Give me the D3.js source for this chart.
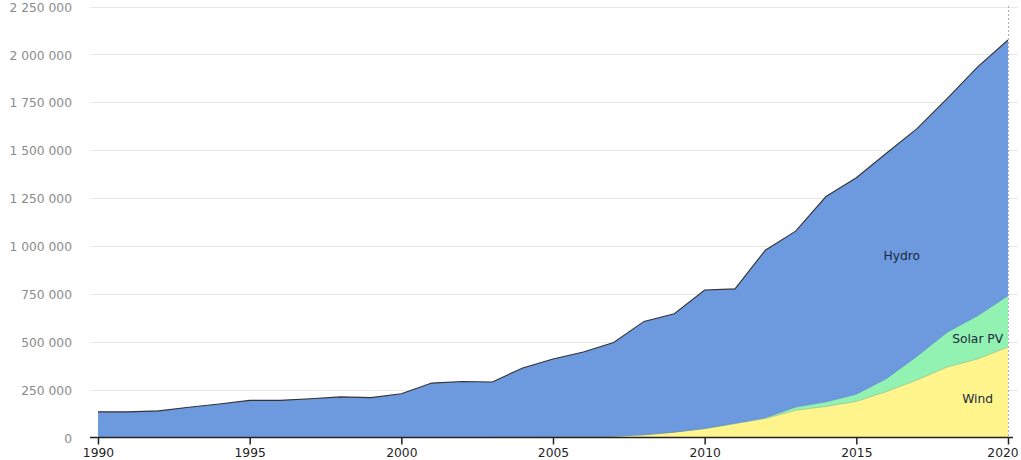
<!DOCTYPE html>
<html>
<head>
<meta charset="utf-8">
<script src="https://cdn.jsdelivr.net/npm/d3@7"></script>
<style>
  html, body { margin: 0; padding: 0; background: #fff; }
  svg { display: block; }
  text { font-family: "DejaVu Sans", "Open Sans", sans-serif; }
</style>
</head>
<body>
<svg id="chart" width="1021" height="460"></svg>
<script>
const years = d3.range(1990, 2021);
const hydro = [134000, 134000, 139000, 158000, 175000, 194000, 194000, 202000, 212000, 208000,
  228000, 284000, 292000, 290000, 362000, 408000, 442000, 490000, 592000, 618000,
  723000, 701000, 875000, 918000, 1072000, 1130000, 1177000, 1188000, 1220000, 1299000, 1335000];
const solar = [0,0,0,0,0,0,0,0,0,0, 0,0,0,0,0,0,0,0,0,0,
  1000, 3000, 4000, 17000, 24000, 38000, 68000, 124000, 182000, 226000, 268000];
const wind = [0,0,0,0,0,0,0,0,0,0, 0,0,0,0,1000,2000,4000,6000,14000,28000,
  46000, 72000, 99000, 142000, 162000, 188000, 240000, 300000, 368000, 410000, 472000];
const seriesNames = ["Wind", "Solar PV", "Hydro"];
const yTicks = [0, 250000, 500000, 750000, 1000000, 1250000, 1500000, 1750000, 2000000, 2250000];
const xTicks = [1990, 1995, 2000, 2005, 2010, 2015, 2020];
const labelPos = [
  {name: "Hydro", year: 2016.5, value: 949000},
  {name: "Solar PV", year: 2019, value: 519000},
  {name: "Wind", year: 2019, value: 201000}
];

const rows = years.map((y, i) => ({year: y, "Wind": wind[i], "Solar PV": solar[i], "Hydro": hydro[i]}));
const colors = {"Wind": "#fff58c", "Solar PV": "#92f2b2", "Hydro": "#6d9ade"};
const edge = {"Wind": "#8fb07a", "Solar PV": "#4f7fc4", "Hydro": "#333333"};

const svg = d3.select("#chart");
const x = d3.scaleLinear().domain([1990, 2020]).range([98, 1008]);
const y = d3.scaleLinear().domain([0, 2250000]).range([437.5, 6.5]);

// gridlines
svg.append("g").selectAll("line").data(yTicks.filter(d => d > 0)).join("line")
  .attr("x1", 90).attr("x2", 1018)
  .attr("y1", d => Math.round(y(d)) + 0.5).attr("y2", d => Math.round(y(d)) + 0.5)
  .attr("stroke", "#e8e8e8").attr("stroke-width", 1);

// y labels
const fmt = v => d3.format(",")(v).replace(/,/g, " ");
svg.append("g").selectAll("text").data(yTicks).join("text")
  .attr("x", 72).attr("y", d => y(d) + 5.2)
  .attr("text-anchor", "end").attr("fill", "#8a8a8a").attr("font-size", 12.3)
  .text(fmt);

const stack = d3.stack().keys(seriesNames);
const layers = stack(rows);
const area = d3.area().x(d => x(d.data.year)).y0(d => y(d[0])).y1(d => y(d[1]));
const topLine = d3.line().x(d => x(d.data.year)).y(d => y(d[1]));

svg.append("g").selectAll("path").data(layers).join("path")
  .attr("d", area).attr("fill", d => colors[d.key]);
svg.append("g").selectAll("path").data(layers).join("path")
  .attr("d", topLine).attr("fill", "none")
  .attr("stroke", d => edge[d.key]).attr("stroke-width", d => d.key === "Hydro" ? 1.1 : 0.8)
  .attr("stroke-opacity", d => d.key === "Hydro" ? 1 : 0.7);

// dotted vertical line at last year
svg.append("line")
  .attr("x1", x(2020) + 0.5).attr("x2", x(2020) + 0.5)
  .attr("y1", 6).attr("y2", 437)
  .attr("stroke", "#b0b0b0").attr("stroke-width", 1).attr("stroke-dasharray", "2,2");

// x axis
const xAxis = d3.axisBottom(x).tickValues(xTicks).tickFormat(d3.format("d")).tickSize(7).tickSizeOuter(0);
const gx = svg.append("g").attr("transform", "translate(0,437.5)").call(xAxis);
gx.select(".domain").remove();
gx.append("line").attr("x1", 90).attr("x2", 1013).attr("y1", 0).attr("y2", 0)
  .attr("stroke", "#222").attr("stroke-width", 1.5);
gx.selectAll(".tick line").attr("stroke", "#222").attr("stroke-width", 1.5);
gx.selectAll(".tick text").attr("fill", "#222").attr("font-size", 12.3)
  .attr("font-family", "'DejaVu Sans', sans-serif").attr("y", 19.2).attr("dy", null);
gx.selectAll(".tick text").filter(d => d === 2020).attr("x", -5.5);

// series labels
svg.append("g").selectAll("text").data(labelPos).join("text")
  .attr("x", d => x(d.year)).attr("y", d => y(d.value) + 4.5)
  .attr("text-anchor", "middle").attr("fill", "#1b2a40").attr("font-size", 12.3)
  .text(d => d.name);
</script>
</body>
</html>
